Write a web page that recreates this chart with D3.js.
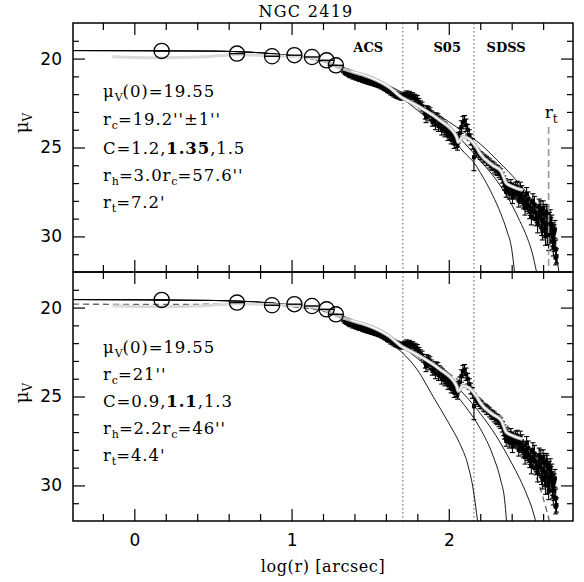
<!DOCTYPE html>
<html><head><meta charset="utf-8">
<script src="https://cdn.jsdelivr.net/npm/d3@7"></script>
<style>body{margin:0;background:#fff}</style>
</head><body>
<svg id="c" width="584" height="582"></svg>
<script>
// ---------- DATA ----------
const titleText = "NGC 2419";
const xMajorTicks = [0, 1, 2];
const xMinorTicks = [-0.2, 0.2, 0.4, 0.6, 0.8, 1.2, 1.4, 1.6, 1.8, 2.2, 2.4, 2.6];
const yMajorTicks = [20, 25, 30];
const yMinorTicks = [19, 21, 22, 23, 24, 26, 27, 28, 29, 31];

// open circles (inner profile)
const circLogR = [0.174, 0.653, 0.876, 1.018, 1.130, 1.223, 1.282];
const circMu   = [19.57, 19.72, 19.87, 19.81, 19.91, 20.10, 20.38];

// ACS points
const acsLogR = [1.33,1.34,1.35,1.36,1.37,1.38,1.39,1.40,1.41,1.42,1.43,1.44,1.45,1.46,1.47,1.48,1.49,1.50,1.51,1.52,1.53,1.54,1.55,1.56,1.57,1.58,1.59,1.60,1.61,1.62,1.63,1.64,1.65,1.66,1.67,1.68,1.69,1.70];
const acsMu   = [20.70,20.78,20.84,20.88,20.93,20.96,21.01,21.03,21.07,21.10,21.13,21.15,21.18,21.23,21.24,21.28,21.30,21.33,21.35,21.38,21.41,21.43,21.46,21.50,21.53,21.58,21.63,21.68,21.74,21.80,21.86,21.92,21.97,22.02,22.06,22.10,22.13,22.16];
const acsErr  = [0.10,0.12,0.10,0.12,0.14,0.12,0.14,0.12,0.14,0.12,0.15,0.13,0.15,0.13,0.15,0.14,0.15,0.14,0.16,0.14,0.16,0.15,0.16,0.15,0.17,0.15,0.17,0.16,0.17,0.16,0.18,0.16,0.18,0.17,0.18,0.17,0.18,0.18];

// S05 points
const s05LogR = [1.71,1.72,1.73,1.74,1.75,1.76,1.77,1.78,1.79,1.80,1.81,1.82,1.83,1.84,1.85,1.86,1.87,1.88,1.89,1.90,1.91,1.92,1.93,1.94,1.95,1.96,1.97,1.98,1.99,2.00,2.01,2.02,2.03,2.04,2.05,2.06,2.07,2.08,2.09,2.10,2.11,2.12,2.13,2.14,2.15,
  1.855,1.875,1.895,1.915,1.935,1.955,1.975,1.995,2.015,2.035,2.055];
const s05Mu   = [22.10,22.05,22.00,22.08,22.02,22.12,22.10,22.20,22.25,22.30,22.45,22.60,22.70,22.85,23.10,22.90,22.95,23.05,23.20,23.35,23.45,23.30,23.40,23.55,23.65,23.75,23.85,23.95,24.05,24.15,24.25,24.35,24.50,24.55,24.65,24.45,24.20,23.85,23.60,23.50,23.75,24.00,24.30,24.55,24.80,
  23.30,23.20,23.50,23.70,23.80,24.00,24.10,24.30,24.50,24.75,24.85];
const s05Err  = [0.15,0.15,0.18,0.15,0.18,0.2,0.18,0.2,0.2,0.22,0.2,0.22,0.25,0.22,0.3,0.25,0.25,0.28,0.25,0.3,0.3,0.25,0.3,0.28,0.3,0.3,0.3,0.32,0.3,0.3,0.32,0.3,0.3,0.32,0.35,0.3,0.3,0.35,0.35,0.3,0.35,0.3,0.3,0.3,0.3,
  0.3,0.3,0.3,0.3,0.3,0.3,0.3,0.3,0.3,0.3,0.3];

// SDSS points
const sdssLogR = [2.16,2.17,2.18,2.19,2.20,2.21,2.22,2.23,2.24,2.25,2.26,2.27,2.28,2.29,2.30,2.31,2.32,2.33,2.34,2.35,2.36,2.37,2.38,2.39,2.40,2.41,2.42,2.43,2.44,2.45,2.46,2.47,2.48,2.49,2.50,2.51,2.52,2.53,2.54,2.55,2.56,2.57,2.58,2.59,2.60,2.61,2.62,2.63,2.64,2.65,2.66,2.67,2.68,2.685,
  2.365,2.385,2.405,2.425,2.445,2.465,2.485,2.505,2.525,2.545,2.565,2.585,2.595,2.605,2.615,2.625,2.635,2.645,2.655,2.665,2.675,
  2.355,2.375,2.395,2.415,2.435,2.455,2.475,2.495,2.515,2.535,2.555,2.575,2.59,2.60,2.61,2.62,2.63,2.64,2.65,2.66,2.67,2.68];
const sdssMu   = [25.55,25.15,25.25,25.35,25.45,25.50,25.60,25.65,25.75,25.80,25.90,26.00,26.05,26.15,26.25,26.30,26.40,26.50,26.70,26.90,27.05,27.15,27.25,27.30,27.35,27.40,27.45,27.50,27.60,27.70,27.80,27.90,28.00,28.10,28.20,28.30,28.40,28.50,28.60,28.65,28.75,28.85,28.95,29.05,29.15,29.25,29.35,29.50,29.65,29.80,30.00,30.30,30.70,31.10,
  27.50,27.60,27.80,27.30,28.00,27.50,28.40,27.90,28.90,28.20,29.30,28.50,29.70,28.70,30.00,28.80,30.30,29.00,29.30,30.60,29.60,
  27.15,27.30,27.10,27.60,27.20,27.30,28.10,27.60,28.60,28.00,29.00,28.30,29.50,28.40,29.60,28.60,30.00,29.10,29.40,30.30,29.80,31.20];
const sdssErr  = [0.75,0.2,0.2,0.2,0.22,0.2,0.22,0.22,0.25,0.22,0.25,0.25,0.25,0.28,0.28,0.28,0.3,0.3,0.3,0.3,0.3,0.32,0.3,0.32,0.32,0.33,0.33,0.35,0.35,0.35,0.35,0.38,0.38,0.4,0.4,0.4,0.42,0.42,0.45,0.45,0.45,0.48,0.5,0.5,0.5,0.52,0.52,0.55,0.55,0.55,0.55,0.55,0.5,0.4,
  0.3,0.3,0.35,0.35,0.35,0.35,0.4,0.4,0.45,0.45,0.5,0.5,0.5,0.5,0.5,0.5,0.5,0.5,0.5,0.5,0.5,
  0.25,0.25,0.3,0.3,0.3,0.35,0.35,0.35,0.4,0.4,0.4,0.4,0.45,0.4,0.45,0.4,0.45,0.45,0.45,0.45,0.45,0.4];

// smoothed profile (gray line)
const smoothLogR = [-0.14,0.17,0.45,0.65,0.88,1.02,1.13,1.22,1.29,1.38,1.50,1.62,1.69,1.81,1.94,2.05,2.06,2.09,2.175,2.20,2.28,2.335,2.365,2.405,2.47];
const smoothMu   = [19.90,19.96,19.90,19.78,19.84,19.88,19.97,20.15,20.45,20.72,21.05,21.60,22.12,22.70,23.45,24.40,24.70,24.40,24.97,25.35,26.00,26.37,27.00,27.20,27.40];

// top panel King models: C = 1.2, 1.35, 1.5
const kingTopA_R  = [-0.39,0.5,1.0,1.2,1.3,1.4,1.5,1.6,1.7,1.8,1.9,2.0,2.1,2.16,2.2,2.28,2.33,2.37,2.40,2.418];
const kingTopA_Mu = [19.55,19.58,19.83,20.16,20.41,20.73,21.11,21.62,22.22,22.9,23.6,24.3,25.3,25.85,26.4,27.7,28.7,29.7,30.7,32.0];
const kingTopB_R  = [-0.39,0.5,1.0,1.2,1.3,1.4,1.5,1.6,1.8,2.0,2.1,2.2,2.3,2.4,2.45,2.5,2.53,2.558];
const kingTopB_Mu = [19.55,19.58,19.83,20.16,20.41,20.73,21.11,21.55,22.6,23.9,24.75,25.75,26.8,28.2,29.1,30.1,30.9,32.0];
const kingTopC_R  = [-0.39,0.5,1.0,1.2,1.3,1.4,1.5,1.6,1.8,2.0,2.1,2.2,2.3,2.4,2.5,2.6,2.65,2.68,2.70];
const kingTopC_Mu = [19.55,19.58,19.83,20.16,20.41,20.73,21.11,21.45,22.4,23.55,24.15,24.8,25.65,26.55,27.6,28.95,29.9,30.8,32.0];

// bottom panel King models: C = 0.9, 1.1, 1.3, and dashed model
const kingBotA_R  = [-0.39,0.5,1.0,1.2,1.3,1.4,1.5,1.6,1.7,1.8,1.9,2.0,2.07,2.12,2.155,2.183];
const kingBotA_Mu = [19.55,19.6,19.85,20.15,20.4,20.75,21.2,21.8,22.5,23.5,25.0,26.5,27.65,28.8,30.2,32.0];
const kingBotB_R  = [-0.39,0.5,1.0,1.2,1.3,1.4,1.5,1.6,1.7,1.8,1.9,2.0,2.1,2.2,2.28,2.33,2.355,2.367];
const kingBotB_Mu = [19.55,19.6,19.85,20.15,20.4,20.75,21.15,21.65,22.2,22.85,23.6,24.45,25.5,26.8,28.3,29.7,30.8,32.0];
const kingBotC_R  = [-0.39,0.5,1.0,1.2,1.3,1.4,1.5,1.6,1.7,1.8,1.9,2.0,2.1,2.2,2.3,2.4,2.45,2.5,2.53,2.552];
const kingBotC_Mu = [19.55,19.6,19.85,20.15,20.4,20.75,21.1,21.55,22.05,22.6,23.25,24.0,24.9,25.95,27.2,28.75,29.6,30.6,31.3,32.0];
const dashBot_R   = [-0.39,0.3,0.65,1.0,1.2,1.3,1.4,1.5,1.7,1.9,2.1,2.3,2.4,2.5,2.556,2.598,2.64];
const dashBot_Mu  = [19.81,19.82,19.80,19.95,20.2,20.45,20.8,21.15,22.05,23.1,24.35,25.95,26.95,28.3,29.5,30.64,32.0];

const surveyLines = [1.708, 2.16];
const surveyLabels = ["ACS", "S05", "SDSS"];
const surveyLabelR = [1.488, 1.99, 2.365];
const rtLogR = 2.635;
const rtTopMu = 23.85;

const topText = [
  [["μ",""],["V","sub"],["(0)=19.55",""]],
  [["r",""],["c","sub"],["=19.2''±1''",""]],
  [["C=1.2,",""],["1.35","b"],[",1.5",""]],
  [["r",""],["h","sub"],["=3.0r",""],["c","sub"],["=57.6''",""]],
  [["r",""],["t","sub"],["=7.2'",""]]
];
const botText = [
  [["μ",""],["V","sub"],["(0)=19.55",""]],
  [["r",""],["c","sub"],["=21''",""]],
  [["C=0.9,",""],["1.1","b"],[",1.3",""]],
  [["r",""],["h","sub"],["=2.2r",""],["c","sub"],["=46''",""]],
  [["r",""],["t","sub"],["=4.4'",""]]
];

// ---------- DRAW ----------
const svg = d3.select("#c");
const L = 73, R = 573;
const panels = [{top:23, bot:272}, {top:272, bot:521}];
const x = d3.scaleLinear().domain([-0.39, 2.79]).range([L, R]);
const serif = "'DejaVu Serif', serif";
const sans = "'DejaVu Sans', sans-serif";

svg.append("text").attr("x", 306).attr("y", 17).attr("text-anchor","middle")
  .attr("font-family", serif).attr("font-size", 16).attr("letter-spacing", 1.3).text(titleText);

function zip(a, b){ return a.map((v,i)=>[v,b[i]]); }
const allData = [
  [acsLogR, acsMu, acsErr], [s05LogR, s05Mu, s05Err], [sdssLogR, sdssMu, sdssErr]
];

panels.forEach((p, pi) => {
  const y = d3.scaleLinear().domain([18, 32]).range([p.top, p.bot]);
  const g = svg.append("g");
  const clipId = "clip" + pi;
  svg.append("clipPath").attr("id", clipId).append("rect")
    .attr("x", L).attr("y", p.top).attr("width", R-L).attr("height", p.bot-p.top);
  const cg = g.append("g").attr("clip-path", `url(#${clipId})`);
  const line = d3.line().x(d=>x(d[0])).y(d=>y(d[1])).curve(d3.curveMonotoneX);

  // survey boundaries
  surveyLines.forEach(v => {
    cg.append("line").attr("x1", x(v)).attr("x2", x(v)).attr("y1", p.top).attr("y2", p.bot)
      .attr("stroke", "#555").attr("stroke-width", 1).attr("stroke-dasharray", "1.5,2.5");
  });

  // models
  const models = pi === 0
    ? [[kingTopA_R,kingTopA_Mu],[kingTopB_R,kingTopB_Mu],[kingTopC_R,kingTopC_Mu]]
    : [[kingBotA_R,kingBotA_Mu],[kingBotB_R,kingBotB_Mu],[kingBotC_R,kingBotC_Mu]];
  if (pi === 1) {
    cg.append("path").attr("d", line(zip(dashBot_R, dashBot_Mu))).attr("fill","none")
      .attr("stroke", "#666").attr("stroke-width", 1.3).attr("stroke-dasharray", "6,4");
  }
  models.forEach(m => {
    cg.append("path").attr("d", line(zip(m[0], m[1]))).attr("fill","none")
      .attr("stroke", "#000").attr("stroke-width", 0.9);
  });

  // smoothed light profile at left (under everything)
  const sm = zip(smoothLogR, smoothMu);
  cg.append("path").attr("d", line(sm.filter(d=>d[0] < 1.35))).attr("fill","none")
    .attr("stroke", "#dadada").attr("stroke-width", 3);

  // data points with error bars
  const dg = cg.append("g").attr("stroke", "#000").attr("stroke-width", 1.1);
  allData.forEach(([lr, mu, er]) => {
    lr.forEach((r, i) => {
      const cx = x(r), y1 = y(mu[i]-er[i]), y2 = y(mu[i]+er[i]);
      dg.append("line").attr("x1", cx).attr("x2", cx).attr("y1", y1).attr("y2", y2);
      dg.append("line").attr("x1", cx-2.5).attr("x2", cx+2.5).attr("y1", y1).attr("y2", y1);
      dg.append("line").attr("x1", cx-2.5).attr("x2", cx+2.5).attr("y1", y2).attr("y2", y2);
      dg.append("rect").attr("x", cx-2).attr("y", y(mu[i])-2).attr("width", 4).attr("height", 4)
        .attr("fill", "#000").attr("stroke", "none");
    });
  });

  // smoothed gray profile over the data, white core
  const smR = sm.filter(d=>d[0] > 1.2);
  cg.append("path").attr("d", line(smR)).attr("fill","none")
    .attr("stroke", "#bdbdbd").attr("stroke-width", 3.6);
  cg.append("path").attr("d", line(smR.filter(d=>d[0] > 1.3))).attr("fill","none")
    .attr("stroke", "#fff").attr("stroke-width", 1.4);

  // open circles
  circLogR.forEach((r, i) => {
    cg.append("circle").attr("cx", x(r)).attr("cy", y(circMu[i])).attr("r", 7.6)
      .attr("fill", "none").attr("stroke", "#000").attr("stroke-width", 1.3);
    cg.append("line").attr("x1", x(r)-7.6).attr("x2", x(r)+7.6).attr("y1", y(circMu[i])).attr("y2", y(circMu[i]))
      .attr("stroke", "#000").attr("stroke-width", 1.4);
  });

  // top-panel extras
  if (pi === 0) {
    cg.append("line").attr("x1", x(rtLogR)).attr("x2", x(rtLogR)).attr("y1", y(rtTopMu)).attr("y2", p.bot)
      .attr("stroke", "#999").attr("stroke-width", 1.6).attr("stroke-dasharray", "7,4");
    const rt = g.append("text").attr("x", x(rtLogR)-4).attr("y", 118).attr("font-family", serif).attr("font-size", 17);
    rt.append("tspan").text("r");
    rt.append("tspan").attr("font-size", 12).attr("dy", 5).text("t");
    surveyLabels.forEach((s, i) => {
      g.append("text").attr("x", x(surveyLabelR[i])).attr("y", 52).attr("text-anchor", "middle")
        .attr("font-family", serif).attr("font-weight", "bold").attr("font-size", 13).text(s);
    });
  }

  // annotation text
  const lines = pi === 0 ? topText : botText;
  const baseY = pi === 0 ? [97, 125, 154, 181, 208] : [353, 380, 407, 434, 461];
  lines.forEach((parts, li) => {
    const t = g.append("text").attr("x", 103).attr("y", baseY[li]).attr("font-family", serif)
      .attr("font-size", 16.5).attr("letter-spacing", 0.9);
    let inSub = false;
    parts.forEach(([s, k]) => {
      const ts = t.append("tspan").text(s);
      if (k === "sub") { ts.attr("font-size", 11).attr("dy", 4).attr("letter-spacing", 0); inSub = true; }
      else {
        if (inSub) { ts.attr("dy", -4); inSub = false; }
        if (k === "b") ts.attr("font-weight", "bold");
      }
    });
  });

  // axes (inward ticks, both sides)
  [[d3.axisBottom, p.bot],[d3.axisTop, p.top]].forEach(([f, yy]) => {
    g.append("g").attr("transform", `translate(0,${yy})`).call(f(x).tickValues(xMajorTicks).tickSize(-12).tickFormat(""))
      .call(s=>s.select(".domain").remove());
    g.append("g").attr("transform", `translate(0,${yy})`).call(f(x).tickValues(xMinorTicks).tickSize(-7).tickFormat(""))
      .call(s=>s.select(".domain").remove());
  });
  g.append("g").attr("transform", `translate(${L},0)`)
    .call(d3.axisLeft(y).tickValues(yMajorTicks).tickSize(-12).tickPadding(11))
    .call(s=>{ s.select(".domain").remove(); s.selectAll("text").attr("font-family", sans).attr("font-size", 17).attr("fill","#000"); });
  g.append("g").attr("transform", `translate(${L},0)`)
    .call(d3.axisLeft(y).tickValues(yMinorTicks).tickSize(-6).tickFormat("")).call(s=>s.select(".domain").remove());
  g.append("g").attr("transform", `translate(${R},0)`)
    .call(d3.axisRight(y).tickValues(yMajorTicks).tickSize(-12).tickFormat("")).call(s=>s.select(".domain").remove());
  g.append("g").attr("transform", `translate(${R},0)`)
    .call(d3.axisRight(y).tickValues(yMinorTicks).tickSize(-6).tickFormat("")).call(s=>s.select(".domain").remove());
  g.selectAll(".tick line").attr("stroke", "#000").attr("stroke-width", 1.2);

  if (pi === 1) {
    g.append("g").attr("transform", `translate(0,${p.bot})`)
      .call(d3.axisBottom(x).tickValues(xMajorTicks).tickSize(0).tickPadding(13).tickFormat(d3.format("d")))
      .call(s=>{ s.select(".domain").remove(); s.selectAll("text").attr("font-family", sans).attr("font-size", 17).attr("fill","#000"); });
  }

  // frame
  g.append("rect").attr("x", L).attr("y", p.top).attr("width", R-L).attr("height", p.bot-p.top)
    .attr("fill", "none").attr("stroke", "#000").attr("stroke-width", 1.5);

  // y-axis title
  const ly = pi === 0 ? 123 : 393;
  const yt = svg.append("text").attr("transform", `translate(28,${ly}) rotate(-90)`).attr("text-anchor", "middle")
    .attr("font-family", serif).attr("font-size", 18);
  yt.append("tspan").text("μ");
  yt.append("tspan").attr("font-size", 12).attr("dy", 4).text("V");
});

svg.append("text").attr("x", 323).attr("y", 572).attr("text-anchor", "middle")
  .attr("font-family", serif).attr("font-size", 16).attr("letter-spacing", 0.6).text("log(r) [arcsec]");
</script>
</body></html>
